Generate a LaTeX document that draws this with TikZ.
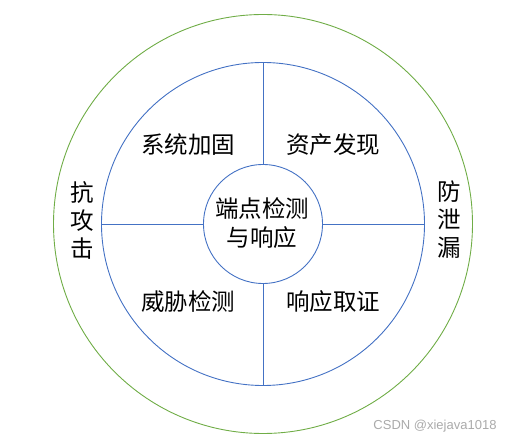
\documentclass[tikz,border=0pt]{standalone}
\usepackage{fontspec}
\setmainfont{Noto Sans CJK SC}
\newfontfamily\wmfont{Liberation Sans}
\definecolor{ringgreen}{RGB}{112,173,71}
\definecolor{ringblue}{RGB}{68,114,196}
\definecolor{wmgray}{RGB}{170,170,170}
\begin{document}
\begin{tikzpicture}[x=1pt,y=-1pt,
  ring/.style={circle,draw,line width=0.9pt,inner sep=0pt,minimum size=#1},
  divider/.style={draw=ringblue,line width=0.9pt},
  lbl/.style={font=\fontsize{23.5}{29}\selectfont,inner sep=0pt,align=center},
  vlbl/.style={font=\fontsize{23.5}{28}\selectfont,inner sep=0pt,align=center}]
\useasboundingbox (0,0) rectangle (512,443);
\node[ring=419pt,draw=ringgreen] (outer) at (263,224) {};
\node[ring=323pt,draw=ringblue] (middle) at (263,224) {};
\node[ring=119pt,draw=ringblue] (inner) at (263,224) {};
\draw[divider] (middle.north) -- (inner.north);
\draw[divider] (inner.south) -- (middle.south);
\draw[divider] (middle.west) -- (inner.west);
\draw[divider] (inner.east) -- (middle.east);
\node[lbl] (center) at (262,223) {端点检测\\与响应};
\node[lbl] (tl) at (188,145) {系统加固};
\node[lbl] (tr) at (333,145) {资产发现};
\node[lbl] (bl) at (188,302) {威胁检测};
\node[lbl] (br) at (333,302) {响应取证};
\node[vlbl] (left) at (82,220) {抗\\攻\\击};
\node[vlbl] (right) at (449,220) {防\\泄\\漏};
\node[font=\wmfont\fontsize{13}{15}\selectfont,text=wmgray,inner sep=0pt] (wm) at (435,426) {CSDN @xiejava1018};
\end{tikzpicture}
\end{document}
